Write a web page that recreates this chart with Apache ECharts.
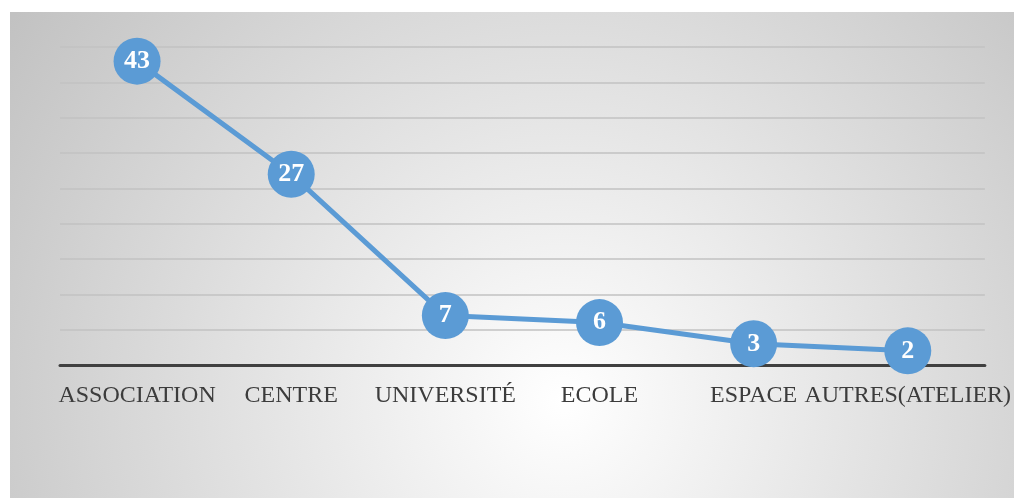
<!DOCTYPE html>
<html><head><meta charset="utf-8">
<script src="https://cdn.jsdelivr.net/npm/echarts@6/dist/echarts.min.js"></script>
<style>html,body{margin:0;padding:0;background:#fff}#c{width:1014px;height:499px}</style>
</head><body><div id="c"></div>
<script>
const categories = ['ASSOCIATION', 'CENTRE', 'UNIVERSITÉ', 'ECOLE', 'ESPACE', 'AUTRES(ATELIER)'];
const values = [43, 27, 7, 6, 3, 2];
const yMax = 45;
const yInterval = 5;

const chart = echarts.init(document.getElementById('c'), null, {renderer: 'canvas'});
chart.setOption({
  backgroundColor: '#ffffff',
  animation: false,
  graphic: [{
    type: 'rect', left: 10, top: 12, z: -10, silent: true,
    shape: {width: 1004, height: 486},
    style: {
      fill: new echarts.graphic.RadialGradient(0.55, 0.8, 1.38, [
        {offset: 0, color: '#ffffff'},
        {offset: 1, color: '#c2c2c2'}
      ])
    }
  }],
  grid: {left: 60, right: 28, top: 47, bottom: 134, containLabel: false},
  xAxis: {
    type: 'category', data: categories, boundaryGap: true,
    axisLine: {show: true, lineStyle: {color: '#404040', width: 3}},
    axisTick: {show: false},
    axisLabel: {interval: 0, hideOverlap: false, margin: 19, color: '#3c3c3c',
      fontFamily: 'Liberation Serif', fontSize: 24}
  },
  yAxis: {
    type: 'value', min: 0, max: yMax, interval: yInterval,
    axisLine: {show: false}, axisTick: {show: false}, axisLabel: {show: false},
    splitLine: {lineStyle: {color: '#c2c2c2', width: 1.5}}
  },
  series: [{
    type: 'line', data: values,
    symbol: 'circle', symbolSize: 47,
    lineStyle: {color: '#5b9bd5', width: 5},
    itemStyle: {color: '#5b9bd5'},
    label: {show: true, position: 'inside', color: '#ffffff', fontWeight: 'bold',
      fontFamily: 'Liberation Serif', fontSize: 26}
  }]
});
</script></body></html>
